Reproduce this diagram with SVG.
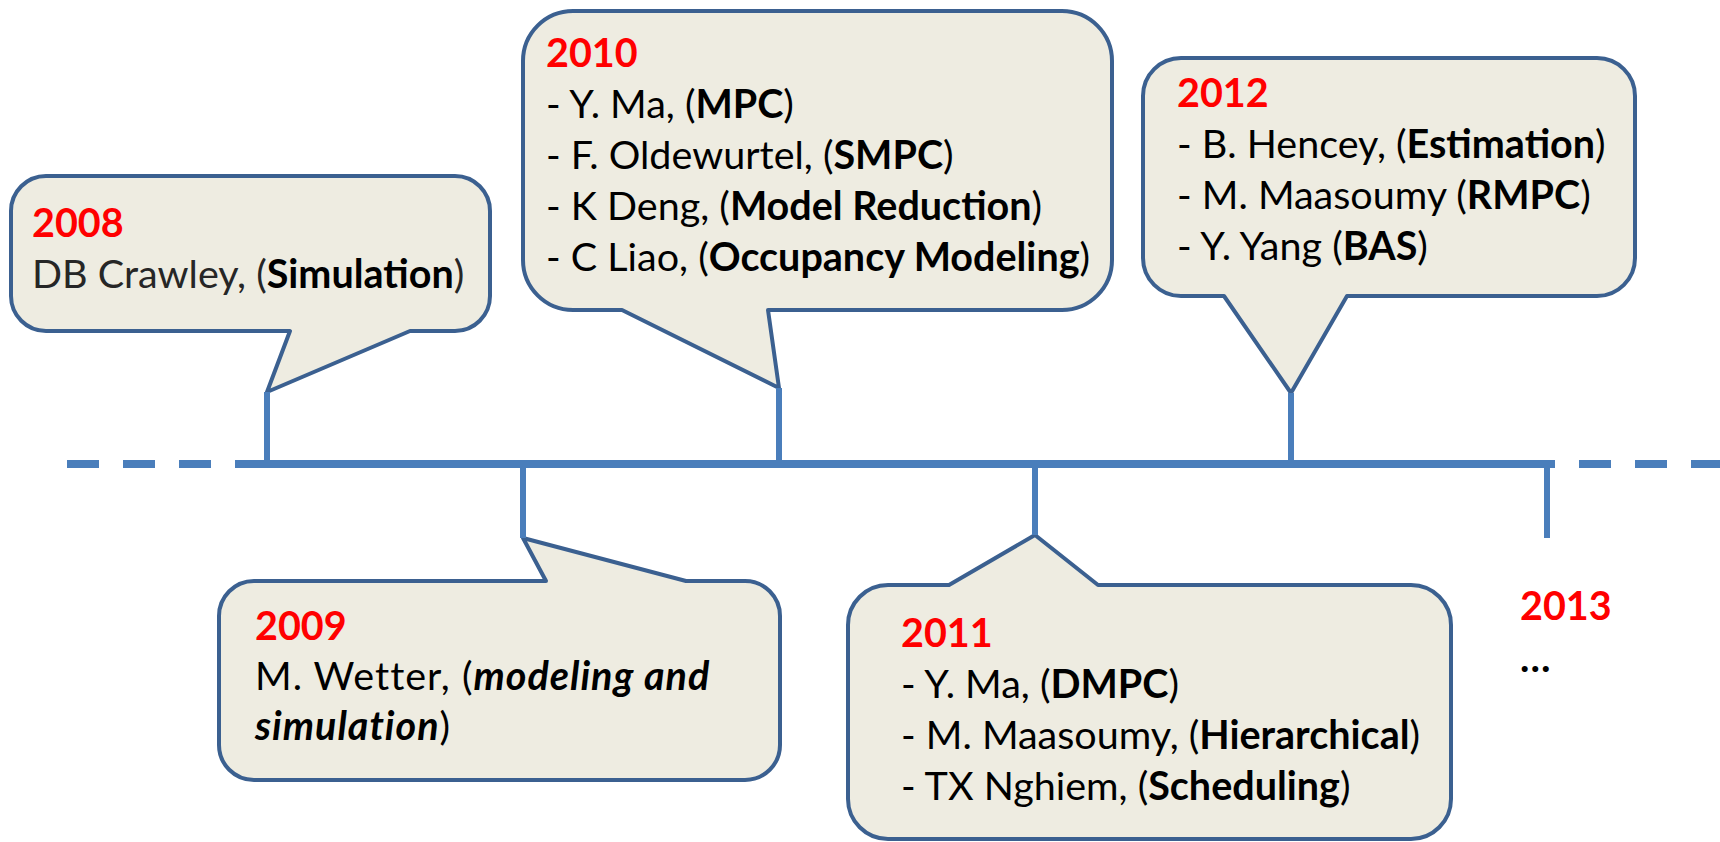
<svg xmlns="http://www.w3.org/2000/svg" width="1720" height="842" viewBox="0 0 1720 842">
  <defs>
    <style>
      .callout { fill: #eeece1; stroke: #3b6090; stroke-width: 4; stroke-linejoin: round; }
      .axis { stroke: #4a7ebb; stroke-width: 8; fill: none; }
      .stem { stroke: #4a7ebb; stroke-width: 6; fill: none; }
      text { font-family: Lato, "Liberation Sans", sans-serif; font-size: 39.5px; fill: #000000; }
      .year { fill: #ff0000; font-weight: bold; }
      .b { font-weight: bold; }
      .bi { font-weight: bold; font-style: italic; }
      .grey { fill: #262626; }
      .wide { letter-spacing: 1px; }
    </style>
  </defs>

  <rect width="1720" height="842" fill="#ffffff"/>

  <!-- callout nodes -->
  <g id="node-2008">
    <path class="callout" d="M 46 176 H 455 A 35 35 0 0 1 490 211 V 296 A 35 35 0 0 1 455 331 H 410 L 267 392 L 290 331 H 46 A 35 35 0 0 1 11 296 V 211 A 35 35 0 0 1 46 176 Z"/>
    <text class="year" x="32" y="237">2008</text>
    <text x="32" y="288" class="grey">DB Crawley, (<tspan class="b" fill="#000000">Simulation</tspan>)</text>
  </g>

  <g id="node-2010">
    <path class="callout" d="M 573 11 H 1062 A 50 50 0 0 1 1112 61 V 260 A 50 50 0 0 1 1062 310 H 768 L 779 388 L 622 310 H 573 A 50 50 0 0 1 523 260 V 61 A 50 50 0 0 1 573 11 Z"/>
    <text class="year" x="546" y="67">2010</text>
    <text x="546" y="118">- Y. Ma, (<tspan class="b">MPC</tspan>)</text>
    <text x="546" y="169">- F. Oldewurtel, (<tspan class="b">SMPC</tspan>)</text>
    <text x="546" y="220">- K Deng, (<tspan class="b">Model Reduction</tspan>)</text>
    <text x="546" y="271">- C Liao, (<tspan class="b">Occupancy Modeling</tspan>)</text>
  </g>

  <g id="node-2012">
    <path class="callout" d="M 1181 58 H 1597 A 38 38 0 0 1 1635 96 V 258 A 38 38 0 0 1 1597 296 H 1347 L 1291 393 L 1224 296 H 1181 A 38 38 0 0 1 1143 258 V 96 A 38 38 0 0 1 1181 58 Z"/>
    <text class="year" x="1177" y="107">2012</text>
    <text x="1177" y="158">- B. Hencey, (<tspan class="b">Estimation</tspan>)</text>
    <text x="1177" y="209">- M. Maasoumy (<tspan class="b">RMPC</tspan>)</text>
    <text x="1177" y="260">- Y. Yang (<tspan class="b">BAS</tspan>)</text>
  </g>

  <g id="node-2009">
    <path class="callout" d="M 254 581 H 546 L 523 538 L 686 581 H 745 A 35 35 0 0 1 780 616 V 745 A 35 35 0 0 1 745 780 H 254 A 35 35 0 0 1 219 745 V 616 A 35 35 0 0 1 254 581 Z"/>
    <text class="year" x="255" y="640">2009</text>
    <text class="wide" x="255" y="690">M. Wetter, (<tspan class="bi">modeling and</tspan></text>
    <text class="wide" x="255" y="740"><tspan class="bi">simulation</tspan>)</text>
  </g>

  <g id="node-2011">
    <path class="callout" d="M 888 585 H 949 L 1035 535 L 1098 585 H 1411 A 40 40 0 0 1 1451 625 V 799 A 40 40 0 0 1 1411 839 H 888 A 40 40 0 0 1 848 799 V 625 A 40 40 0 0 1 888 585 Z"/>
    <text class="year" x="901" y="647">2011</text>
    <text x="901" y="698">- Y. Ma, (<tspan class="b">DMPC</tspan>)</text>
    <text x="901" y="749">- M. Maasoumy, (<tspan class="b">Hierarchical</tspan>)</text>
    <text x="901" y="800">- TX Nghiem, (<tspan class="b">Scheduling</tspan>)</text>
  </g>

  <g id="node-2013">
    <text class="year" x="1520" y="620">2013</text>
    <text class="b" x="1520" y="672">…</text>
  </g>

  <!-- timeline axis and year stems -->
  <g id="connectors">
    <line class="axis" x1="67" y1="464" x2="211" y2="464" stroke-dasharray="32 24"/>
    <line class="axis" x1="235" y1="464" x2="1555" y2="464"/>
    <line class="axis" x1="1579" y1="464" x2="1720" y2="464" stroke-dasharray="32 24"/>
    <line class="stem" x1="267" y1="392" x2="267" y2="464"/>
    <line class="stem" x1="523" y1="464" x2="523" y2="538"/>
    <line class="stem" x1="779" y1="388" x2="779" y2="464"/>
    <line class="stem" x1="1035" y1="464" x2="1035" y2="535"/>
    <line class="stem" x1="1291" y1="393" x2="1291" y2="464"/>
    <line class="stem" x1="1547" y1="464" x2="1547" y2="538"/>
  </g>
</svg>
